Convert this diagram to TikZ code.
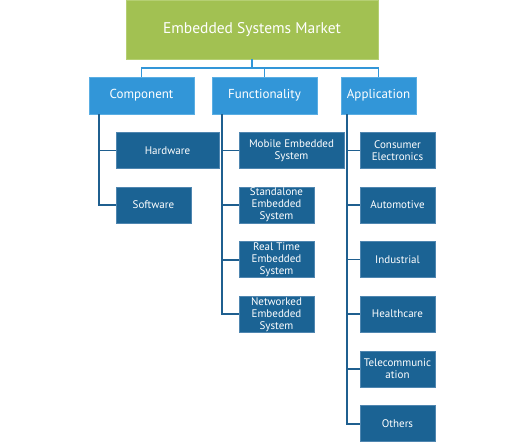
\documentclass[tikz,border=0pt]{standalone}
\usepackage{fontspec}
\setmainfont{PT Sans}
\definecolor{topgreen}{HTML}{A2C152}
\definecolor{topedge}{HTML}{B5CF73}
\definecolor{midblue}{HTML}{3296D8}
\definecolor{midedge}{HTML}{5AAEE3}
\definecolor{darkblue}{HTML}{1B6394}
\definecolor{darkedge}{HTML}{4F86B0}
\definecolor{lineblue}{HTML}{1F5F8F}
\begin{document}
\begin{tikzpicture}[x=1pt,y=-1pt,
  topbox/.style={fill=topgreen,draw=topedge,line width=0.8pt,text=white,minimum width=252pt,minimum height=59pt,font=\fontsize{15.5}{18}\selectfont,inner sep=0pt},
  midbox/.style={fill=midblue,draw=midedge,line width=0.8pt,text=white,minimum height=37pt,font=\fontsize{13}{15}\selectfont,inner sep=0pt},
  leafbox/.style={fill=darkblue,draw=darkedge,line width=0.6pt,text=white,minimum height=36pt,font=\fontsize{11}{12}\selectfont,inner sep=0pt,align=center},
  topconn/.style={draw=midblue,line width=1.8pt},
  conn/.style={draw=lineblue,line width=1.8pt}]
\useasboundingbox (0,0) rectangle (529,446);
\node[topbox] (top) at (252,29.5) {Embedded Systems Market};
\node[midbox,minimum width=105pt] (comp) at (141.5,95.5) {Component};
\node[midbox,minimum width=105pt] (func) at (264.5,95.5) {Functionality};
\node[midbox,minimum width=75pt] (app) at (378.5,95.5) {Application};
% leaves
\node[leafbox,minimum width=103pt] (hw) at (167.5,150.5) {Hardware};
\node[leafbox,minimum width=75pt] (sw) at (153.5,205) {Software};
\node[leafbox,minimum width=105pt] (mob) at (291.5,150.5) {Mobile Embedded\\System};
\node[leafbox,minimum width=75pt] (sta) at (276.5,205) {Standalone\\Embedded\\System};
\node[leafbox,minimum width=75pt] (rt) at (276.5,259.7) {Real Time\\Embedded\\System};
\node[leafbox,minimum width=75pt] (net) at (276.5,314.3) {Networked\\Embedded\\System};
\node[leafbox,minimum width=75pt] (ce) at (397.5,150.5) {Consumer\\Electronics};
\node[leafbox,minimum width=75pt] (auto) at (397.5,205) {Automotive};
\node[leafbox,minimum width=75pt] (ind) at (397.5,259.5) {Industrial};
\node[leafbox,minimum width=75pt] (hc) at (397.5,314.2) {Healthcare};
\node[leafbox,minimum width=75pt] (tel) at (397.5,369) {Telecommunic\\ation};
\node[leafbox,minimum width=75pt] (oth) at (397.5,423.7) {Others};
% top connectors
\coordinate (bus) at ([yshift=-9pt]top.south);
\draw[topconn] (top.south) -- (bus) -| (comp.north);
\draw[topconn] (bus) -| (func.north);
\draw[topconn] (bus) -| (app.north);
% branch connectors
\coordinate (cb) at ([xshift=10pt]comp.south west);
\coordinate (fb) at ([xshift=10pt]func.south west);
\coordinate (ab) at ([xshift=6.5pt]app.south west);
\foreach \n in {hw,sw} \draw[conn] (cb) |- (\n.west);
\foreach \n in {mob,sta,rt,net} \draw[conn] (fb) |- (\n.west);
\foreach \n in {ce,auto,ind,hc,tel,oth} \draw[conn] (ab) |- (\n.west);
\end{tikzpicture}
\end{document}
